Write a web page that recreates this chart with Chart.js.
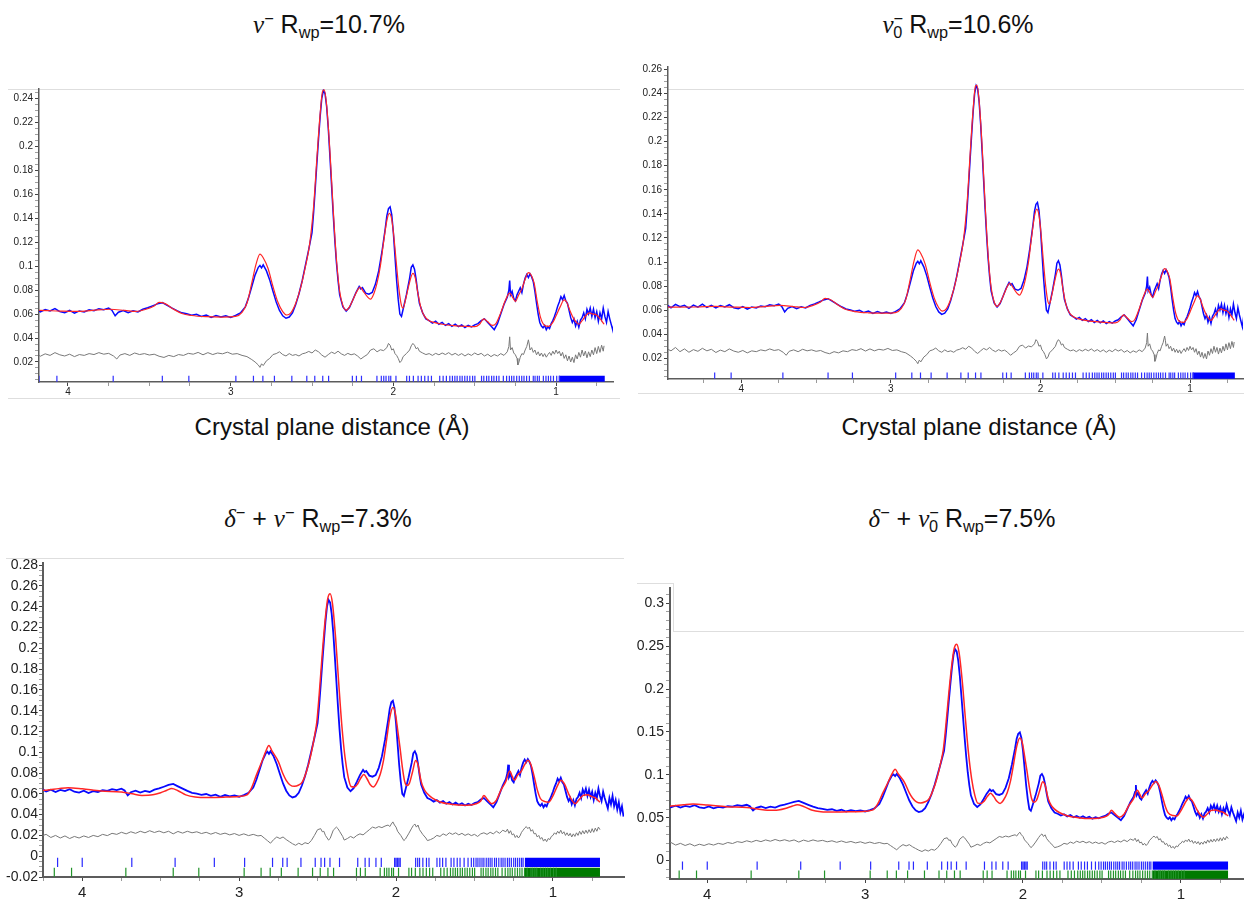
<!DOCTYPE html>
<html>
<head>
<meta charset="utf-8">
<script src="https://cdn.jsdelivr.net/npm/chart.js@4.4.0/dist/chart.umd.min.js"></script>
<style>
  body { margin: 0; background: #fff; }
  #page { position: relative; width: 1244px; height: 900px; overflow: hidden; font-family: 'Liberation Sans', Arial, sans-serif; color: #111; }
  canvas { position: absolute; }
  .title, .axt { position: absolute; font-size: 24px; line-height: 1; white-space: nowrap; transform: translateX(-50%); }
  .title { font-size: 25px; }
  .m { font-family: 'Liberation Serif', 'DejaVu Serif', serif; font-style: italic; }
  sup, sub { font-size: 0.65em; line-height: 0; position: relative; vertical-align: baseline; }
  sup { top: -0.55em; }
  sub { top: 0.3em; }
  sub.under { margin-left: -0.6em; }
  .rule { position: absolute; background: #dedede; }
</style>
</head>
<body>
<div id="page">
  <div class="title" style="left:329px; top:12px"><span class="m">v</span><sup>−</sup> R<sub>wp</sub>=10.7%</div>
  <div class="title" style="left:958px; top:12px"><span class="m">v</span><sup>−</sup><sub class="under">0</sub> R<sub>wp</sub>=10.6%</div>
  <div class="title" style="left:318px; top:506px"><span class="m">δ</span><sup>−</sup> + <span class="m">v</span><sup>−</sup> R<sub>wp</sub>=7.3%</div>
  <div class="title" style="left:962px; top:506px"><span class="m">δ</span><sup>−</sup> + <span class="m">v</span><sup>−</sup><sub class="under">0</sub> R<sub>wp</sub>=7.5%</div>
  <div class="axt" style="left:332px; top:415px">Crystal plane distance (Å)</div>
  <div class="axt" style="left:979px; top:415px">Crystal plane distance (Å)</div>

  <div class="rule" style="left:8px; top:89px; width:612px; height:1px"></div>
  <div class="rule" style="left:8px; top:398px; width:612px; height:1px"></div>
  <div class="rule" style="left:668px; top:89px; width:576px; height:1px"></div>
  <div class="rule" style="left:638px; top:393px; width:606px; height:1px"></div>
  <div class="rule" style="left:6px; top:558px; width:618px; height:1px"></div>
  <div class="rule" style="left:637px; top:583px; width:36px; height:1px"></div>
  <div class="rule" style="left:673px; top:583px; width:1px; height:48px"></div>
  <div class="rule" style="left:673px; top:631px; width:571px; height:1px"></div>

  <canvas id="c1" width="620" height="320" style="left:0px; top:80px"></canvas>
  <canvas id="c2" width="614" height="340" style="left:630px; top:55px"></canvas>
  <canvas id="c3" width="630" height="350" style="left:0px; top:550px"></canvas>
  <canvas id="c4" width="614" height="325" style="left:630px; top:575px"></canvas>
</div>
<script>
// observed intensity, [d (Å), I]
const obs = [
  [4.50,0.0645],[4.47,0.0620],[4.44,0.0648],[4.41,0.0628],[4.38,0.0640],[4.35,0.0615],[4.32,0.0642],[4.29,0.0625],
  [4.26,0.0650],[4.23,0.0622],[4.20,0.0640],[4.17,0.0618],[4.14,0.0638],[4.11,0.0626],[4.08,0.0645],[4.05,0.0620],
  [4.02,0.0612],[3.99,0.0630],[3.96,0.0608],[3.93,0.0626],[3.90,0.0618],[3.87,0.0635],[3.84,0.0628],[3.81,0.0645],
  [3.78,0.0636],[3.75,0.0650],[3.73,0.0632],[3.71,0.0585],[3.69,0.0615],[3.66,0.0630],[3.63,0.0612],[3.60,0.0628],
  [3.57,0.0618],[3.54,0.0640],[3.51,0.0652],[3.48,0.0668],[3.45,0.0685],[3.42,0.0695],[3.39,0.0672],[3.36,0.0650],
  [3.33,0.0628],[3.30,0.0610],[3.27,0.0602],[3.24,0.0590],[3.21,0.0598],[3.18,0.0580],[3.15,0.0592],[3.12,0.0572],
  [3.09,0.0588],[3.06,0.0575],[3.03,0.0585],[3.00,0.0572],[2.97,0.0588],[2.94,0.0610],[2.91,0.0660],[2.89,0.0735],
  [2.87,0.0830],[2.85,0.0925],[2.83,0.0990],[2.82,0.1005],[2.81,0.0985],[2.80,0.1010],[2.78,0.0960],[2.76,0.0885],
  [2.74,0.0790],[2.72,0.0700],[2.70,0.0630],[2.68,0.0585],[2.66,0.0565],[2.64,0.0575],[2.62,0.0610],[2.60,0.0680],
  [2.58,0.0770],[2.56,0.0880],[2.54,0.1010],[2.52,0.1140],[2.50,0.1280],[2.49,0.1450],[2.48,0.1650],[2.47,0.1860],
  [2.46,0.2060],[2.45,0.2250],[2.44,0.2400],[2.43,0.2465],[2.42,0.2440],[2.41,0.2330],[2.40,0.2150],[2.39,0.1920],
  [2.38,0.1680],[2.37,0.1440],[2.36,0.1220],[2.35,0.1030],[2.34,0.0880],[2.33,0.0760],[2.31,0.0660],[2.29,0.0625],
  [2.27,0.0655],[2.25,0.0715],[2.23,0.0780],[2.21,0.0830],[2.20,0.0810],[2.19,0.0820],[2.17,0.0775],[2.15,0.0765],
  [2.13,0.0780],[2.11,0.0850],[2.09,0.0960],[2.07,0.1120],[2.05,0.1310],[2.04,0.1420],[2.03,0.1480],[2.02,0.1495],
  [2.01,0.1430],[2.00,0.1280],[1.99,0.1080],[1.98,0.0880],[1.97,0.0720],[1.96,0.0600],[1.95,0.0580],[1.94,0.0640],
  [1.92,0.0760],[1.90,0.0900],[1.89,0.0990],[1.88,0.1010],[1.87,0.0975],[1.86,0.0890],[1.85,0.0780],[1.84,0.0690],
  [1.82,0.0610],[1.80,0.0560],[1.78,0.0545],[1.76,0.0525],[1.74,0.0540],[1.72,0.0515],[1.70,0.0530],[1.68,0.0505],
  [1.66,0.0520],[1.64,0.0498],[1.62,0.0515],[1.60,0.0495],[1.58,0.0510],[1.56,0.0488],[1.54,0.0505],[1.52,0.0492],
  [1.50,0.0510],[1.48,0.0520],[1.46,0.0545],[1.44,0.0560],[1.42,0.0530],[1.40,0.0500],[1.38,0.0470],[1.36,0.0520],
  [1.34,0.0600],[1.32,0.0680],[1.30,0.0740],[1.29,0.0800],[1.285,0.0880],[1.28,0.0760],[1.27,0.0790],[1.26,0.0730],
  [1.25,0.0710],[1.24,0.0760],[1.23,0.0790],[1.22,0.0820],[1.21,0.0780],[1.20,0.0850],[1.19,0.0900],[1.18,0.0930],
  [1.17,0.0905],[1.16,0.0935],[1.15,0.0910],[1.14,0.0870],[1.13,0.0790],[1.12,0.0690],[1.11,0.0600],[1.10,0.0530],
  [1.09,0.0500],[1.08,0.0485],[1.07,0.0505],[1.06,0.0470],[1.05,0.0495],[1.04,0.0480],[1.03,0.0520],[1.02,0.0545],
  [1.01,0.0580],[1.00,0.0620],[0.99,0.0665],[0.98,0.0700],[0.97,0.0745],[0.96,0.0720],[0.95,0.0755],[0.94,0.0710],
  [0.93,0.0690],[0.92,0.0630],[0.91,0.0570],[0.90,0.0530],[0.89,0.0560],[0.88,0.0500],[0.87,0.0540],[0.86,0.0490],
  [0.85,0.0550],[0.84,0.0570],[0.83,0.0610],[0.82,0.0560],[0.81,0.0640],[0.80,0.0600],[0.79,0.0650],[0.78,0.0580],
  [0.77,0.0640],[0.76,0.0570],[0.75,0.0620],[0.74,0.0540],[0.73,0.0610],[0.72,0.0560],[0.71,0.0650],[0.70,0.0580],
  [0.69,0.0530],[0.68,0.0620],[0.67,0.0560],[0.66,0.0510],[0.65,0.0460],[0.64,0.0560],[0.63,0.0500],[0.62,0.0580],
  [0.61,0.0480],[0.60,0.0540],[0.59,0.0450],[0.58,0.0520],[0.57,0.0420],[0.56,0.0480],[0.55,0.0380]
];

// calculated profile, single-phase fits (top row)
const calcNu = [
  [4.50,0.0625],[4.30,0.0626],[4.18,0.0631],[4.05,0.0625],[3.94,0.0622],[3.85,0.0630],[3.74,0.0640],[3.65,0.0630],
  [3.58,0.0622],[3.52,0.0640],[3.47,0.0668],[3.44,0.0697],[3.40,0.0685],[3.35,0.0640],[3.30,0.0605],[3.24,0.0588],
  [3.15,0.0578],[3.05,0.0575],[2.97,0.0580],[2.93,0.0615],[2.90,0.0690],[2.87,0.0860],[2.845,0.1010],[2.82,0.1100],
  [2.80,0.1070],[2.77,0.0980],[2.74,0.0830],[2.71,0.0700],[2.68,0.0620],[2.655,0.0592],[2.63,0.0610],[2.60,0.0690],
  [2.57,0.0820],[2.54,0.1000],[2.515,0.1180],[2.49,0.1500],[2.47,0.1900],[2.45,0.2270],[2.435,0.2460],[2.425,0.2470],
  [2.41,0.2340],[2.39,0.1960],[2.37,0.1480],[2.35,0.1060],[2.33,0.0790],[2.31,0.0670],[2.29,0.0632],[2.27,0.0660],
  [2.245,0.0730],[2.22,0.0800],[2.205,0.0825],[2.185,0.0790],[2.16,0.0745],[2.14,0.0725],[2.12,0.0770],[2.10,0.0860],
  [2.08,0.1000],[2.06,0.1200],[2.04,0.1380],[2.025,0.1440],[2.01,0.1390],[1.995,0.1220],[1.98,0.1000],[1.965,0.0800],
  [1.95,0.0670],[1.94,0.0650],[1.925,0.0720],[1.905,0.0840],[1.88,0.0940],[1.865,0.0900],[1.85,0.0780],[1.83,0.0650],
  [1.81,0.0585],[1.78,0.0545],[1.75,0.0530],[1.70,0.0515],[1.63,0.0504],[1.55,0.0497],[1.50,0.0495],[1.47,0.0515],
  [1.445,0.0560],[1.42,0.0535],[1.39,0.0505],[1.37,0.0520],[1.34,0.0610],[1.31,0.0720],[1.285,0.0775],[1.265,0.0735],
  [1.25,0.0705],[1.23,0.0760],[1.21,0.0810],[1.19,0.0890],[1.17,0.0945],[1.155,0.0930],[1.135,0.0860],[1.115,0.0700],
  [1.095,0.0570],[1.07,0.0505],[1.045,0.0498],[1.02,0.0530],[1.00,0.0585],[0.975,0.0660],[0.95,0.0718],[0.935,0.0700],
  [0.915,0.0630],[0.895,0.0570],[0.875,0.0530],[0.86,0.0515],[0.84,0.0545],[0.815,0.0590],[0.795,0.0610],[0.775,0.0600],
  [0.755,0.0595],[0.735,0.0570],[0.715,0.0535],[0.705,0.0515]
];

// calculated profile, two-phase fits (bottom row)
const calcDelta = [
  [4.50,0.0630],[4.30,0.0632],[4.23,0.0635],[4.15,0.0650],[4.09,0.0659],[4.00,0.0648],[3.88,0.0627],[3.75,0.0618],
  [3.68,0.0600],[3.62,0.0585],[3.55,0.0590],[3.50,0.0610],[3.46,0.0635],[3.43,0.0650],[3.39,0.0630],[3.34,0.0590],
  [3.28,0.0570],[3.20,0.0565],[3.10,0.0568],[3.00,0.0575],[2.95,0.0590],[2.92,0.0660],[2.89,0.0780],[2.855,0.0910],
  [2.83,0.1010],[2.81,0.1065],[2.79,0.1010],[2.75,0.0910],[2.72,0.0790],[2.70,0.0730],[2.675,0.0685],[2.648,0.0672],
  [2.62,0.0685],[2.597,0.0715],[2.57,0.0820],[2.545,0.0960],[2.52,0.1150],[2.505,0.1290],[2.49,0.1550],[2.47,0.1950],
  [2.45,0.2300],[2.435,0.2480],[2.42,0.2525],[2.405,0.2430],[2.385,0.2100],[2.365,0.1660],[2.345,0.1250],[2.325,0.0950],
  [2.305,0.0760],[2.287,0.0670],[2.265,0.0665],[2.245,0.0695],[2.225,0.0750],[2.205,0.0785],[2.185,0.0745],[2.165,0.0690],
  [2.145,0.0665],[2.125,0.0700],[2.10,0.0790],[2.08,0.0920],[2.06,0.1120],[2.04,0.1330],[2.02,0.1430],[2.005,0.1380],
  [1.99,0.1220],[1.975,0.1050],[1.96,0.0860],[1.945,0.0720],[1.93,0.0680],[1.915,0.0700],[1.895,0.0810],[1.875,0.0920],
  [1.86,0.0880],[1.84,0.0720],[1.82,0.0640],[1.80,0.0600],[1.77,0.0560],[1.72,0.0522],[1.65,0.0500],[1.57,0.0490],
  [1.49,0.0505],[1.46,0.0530],[1.44,0.0585],[1.42,0.0550],[1.39,0.0505],[1.36,0.0540],[1.33,0.0640],[1.30,0.0720],
  [1.275,0.0820],[1.26,0.0770],[1.245,0.0730],[1.225,0.0780],[1.205,0.0810],[1.18,0.0880],[1.16,0.0922],[1.14,0.0880],
  [1.12,0.0770],[1.10,0.0640],[1.08,0.0555],[1.05,0.0525],[1.026,0.0520],[1.00,0.0580],[0.975,0.0665],[0.948,0.0730],
  [0.925,0.0690],[0.90,0.0600],[0.88,0.0540],[0.858,0.0505],[0.835,0.0540],[0.807,0.0585],[0.78,0.0590],[0.755,0.0575],
  [0.73,0.0560],[0.70,0.0520]
];

// difference curves (offset), top and bottom rows
const diffNu = [
  [4.50,0.0280],[4.47,0.0262],[4.44,0.0290],[4.41,0.0255],[4.38,0.0278],[4.35,0.0250],[4.32,0.0272],[4.29,0.0258],
  [4.26,0.0283],[4.23,0.0262],[4.20,0.0275],[4.17,0.0248],[4.14,0.0268],[4.11,0.0255],[4.08,0.0278],[4.05,0.0260],
  [4.02,0.0250],[3.99,0.0265],[3.96,0.0245],[3.93,0.0262],[3.90,0.0255],[3.87,0.0270],[3.84,0.0262],[3.81,0.0278],
  [3.78,0.0265],[3.75,0.0272],[3.72,0.0250],[3.70,0.0225],[3.68,0.0258],[3.65,0.0270],[3.62,0.0255],[3.59,0.0275],
  [3.56,0.0262],[3.53,0.0270],[3.50,0.0258],[3.47,0.0265],[3.44,0.0248],[3.41,0.0238],[3.38,0.0255],[3.35,0.0245],
  [3.32,0.0262],[3.29,0.0255],[3.26,0.0272],[3.23,0.0265],[3.20,0.0280],[3.17,0.0260],[3.14,0.0278],[3.11,0.0262],
  [3.08,0.0275],[3.05,0.0268],[3.02,0.0282],[2.99,0.0265],[2.96,0.0270],[2.93,0.0255],[2.90,0.0245],[2.87,0.0220],
  [2.85,0.0200],[2.83,0.0175],[2.82,0.0155],[2.81,0.0185],[2.80,0.0170],[2.78,0.0210],[2.76,0.0230],[2.74,0.0262],
  [2.72,0.0270],[2.70,0.0285],[2.68,0.0262],[2.66,0.0250],[2.64,0.0270],[2.62,0.0255],[2.60,0.0262],[2.58,0.0250],
  [2.56,0.0268],[2.54,0.0275],[2.52,0.0288],[2.50,0.0275],[2.48,0.0300],[2.46,0.0285],[2.44,0.0258],[2.42,0.0240],
  [2.40,0.0262],[2.38,0.0282],[2.36,0.0270],[2.34,0.0290],[2.32,0.0268],[2.30,0.0255],[2.28,0.0272],[2.26,0.0260],
  [2.24,0.0268],[2.22,0.0250],[2.20,0.0225],[2.18,0.0245],[2.16,0.0262],[2.14,0.0300],[2.12,0.0310],[2.10,0.0285],
  [2.08,0.0302],[2.06,0.0295],[2.04,0.0320],[2.03,0.0355],[2.02,0.0340],[2.01,0.0300],[2.00,0.0310],[1.99,0.0270],
  [1.98,0.0255],[1.97,0.0230],[1.96,0.0195],[1.95,0.0210],[1.94,0.0245],[1.92,0.0270],[1.90,0.0300],[1.89,0.0335],
  [1.88,0.0355],[1.87,0.0340],[1.86,0.0310],[1.85,0.0320],[1.84,0.0290],[1.82,0.0275],[1.80,0.0262],[1.78,0.0270],
  [1.76,0.0255],[1.74,0.0272],[1.72,0.0260],[1.70,0.0275],[1.68,0.0262],[1.66,0.0278],[1.64,0.0258],[1.62,0.0272],
  [1.60,0.0255],[1.58,0.0270],[1.56,0.0250],[1.54,0.0268],[1.52,0.0255],[1.50,0.0275],[1.48,0.0260],[1.46,0.0272],
  [1.44,0.0250],[1.42,0.0265],[1.40,0.0245],[1.38,0.0262],[1.36,0.0250],[1.34,0.0270],[1.32,0.0255],[1.30,0.0285],
  [1.29,0.0330],[1.285,0.0410],[1.28,0.0300],[1.27,0.0320],[1.26,0.0275],[1.25,0.0260],[1.24,0.0230],[1.235,0.0175],
  [1.23,0.0190],[1.22,0.0240],[1.21,0.0270],[1.20,0.0262],[1.19,0.0300],[1.18,0.0330],[1.17,0.0385],[1.165,0.0350],
  [1.16,0.0300],[1.15,0.0320],[1.14,0.0280],[1.13,0.0300],[1.12,0.0260],[1.11,0.0285],[1.10,0.0250],[1.09,0.0275],
  [1.08,0.0245],[1.07,0.0270],[1.06,0.0240],[1.05,0.0262],[1.04,0.0280],[1.03,0.0255],[1.02,0.0290],[1.01,0.0265],
  [1.00,0.0300],[0.99,0.0270],[0.98,0.0290],[0.97,0.0250],[0.96,0.0280],[0.95,0.0230],[0.94,0.0260],[0.93,0.0210],
  [0.92,0.0250],[0.91,0.0200],[0.90,0.0240],[0.89,0.0195],[0.88,0.0260],[0.87,0.0225],[0.86,0.0280],[0.85,0.0240],
  [0.84,0.0300],[0.83,0.0250],[0.82,0.0290],[0.81,0.0235],[0.80,0.0285],[0.79,0.0245],[0.78,0.0300],[0.77,0.0260],
  [0.76,0.0320],[0.75,0.0270],[0.74,0.0330],[0.73,0.0280],[0.72,0.0340],[0.71,0.0290],[0.705,0.0335]
];
const diffDelta = [
  [4.50,0.0205],[4.45,0.0185],[4.40,0.0210],[4.35,0.0190],[4.30,0.0215],[4.26,0.0195],[4.23,0.0210],[4.20,0.0180],
  [4.17,0.0200],[4.14,0.0175],[4.11,0.0195],[4.08,0.0170],[4.05,0.0190],[4.02,0.0175],[3.99,0.0195],[3.96,0.0180],
  [3.93,0.0200],[3.90,0.0188],[3.87,0.0210],[3.84,0.0198],[3.81,0.0220],[3.78,0.0210],[3.75,0.0230],[3.72,0.0215],
  [3.69,0.0235],[3.66,0.0220],[3.63,0.0240],[3.60,0.0225],[3.57,0.0245],[3.54,0.0228],[3.51,0.0242],[3.48,0.0225],
  [3.45,0.0240],[3.42,0.0215],[3.39,0.0238],[3.36,0.0222],[3.33,0.0240],[3.30,0.0225],[3.27,0.0235],[3.24,0.0218],
  [3.21,0.0230],[3.18,0.0212],[3.15,0.0228],[3.12,0.0210],[3.09,0.0222],[3.06,0.0205],[3.03,0.0218],[3.00,0.0200],
  [2.97,0.0215],[2.94,0.0198],[2.91,0.0210],[2.88,0.0195],[2.86,0.0200],[2.84,0.0175],[2.82,0.0150],[2.80,0.0125],
  [2.78,0.0160],[2.76,0.0185],[2.74,0.0170],[2.72,0.0185],[2.70,0.0160],[2.68,0.0140],[2.66,0.0120],[2.64,0.0105],
  [2.62,0.0125],[2.60,0.0110],[2.58,0.0130],[2.56,0.0120],[2.54,0.0150],[2.52,0.0200],[2.50,0.0255],[2.48,0.0265],
  [2.47,0.0235],[2.46,0.0240],[2.45,0.0200],[2.43,0.0155],[2.42,0.0170],[2.40,0.0250],[2.38,0.0280],[2.37,0.0265],
  [2.36,0.0240],[2.34,0.0190],[2.33,0.0155],[2.31,0.0170],[2.29,0.0190],[2.27,0.0175],[2.25,0.0200],[2.23,0.0215],
  [2.21,0.0205],[2.19,0.0230],[2.17,0.0255],[2.15,0.0280],[2.13,0.0270],[2.11,0.0285],[2.09,0.0275],[2.07,0.0290],
  [2.05,0.0300],[2.04,0.0285],[2.03,0.0310],[2.02,0.0330],[2.01,0.0300],[2.00,0.0280],[1.99,0.0240],[1.97,0.0200],
  [1.96,0.0175],[1.95,0.0150],[1.94,0.0165],[1.92,0.0215],[1.90,0.0270],[1.89,0.0295],[1.88,0.0310],[1.87,0.0280],
  [1.86,0.0300],[1.85,0.0255],[1.83,0.0210],[1.81,0.0175],[1.80,0.0150],[1.78,0.0160],[1.76,0.0175],[1.74,0.0200],
  [1.72,0.0190],[1.70,0.0215],[1.68,0.0200],[1.66,0.0225],[1.64,0.0210],[1.62,0.0225],[1.60,0.0205],[1.58,0.0220],
  [1.56,0.0200],[1.54,0.0215],[1.52,0.0198],[1.50,0.0210],[1.48,0.0190],[1.46,0.0215],[1.44,0.0225],[1.42,0.0210],
  [1.40,0.0230],[1.38,0.0215],[1.36,0.0240],[1.34,0.0220],[1.32,0.0250],[1.30,0.0235],[1.29,0.0260],[1.28,0.0220],
  [1.27,0.0245],[1.26,0.0205],[1.25,0.0215],[1.24,0.0180],[1.23,0.0200],[1.22,0.0175],[1.21,0.0195],[1.20,0.0230],
  [1.19,0.0250],[1.18,0.0270],[1.17,0.0285],[1.16,0.0265],[1.15,0.0280],[1.14,0.0240],[1.13,0.0255],[1.12,0.0215],
  [1.11,0.0220],[1.10,0.0185],[1.09,0.0200],[1.08,0.0165],[1.07,0.0180],[1.06,0.0145],[1.05,0.0165],[1.04,0.0140],
  [1.03,0.0170],[1.02,0.0160],[1.01,0.0190],[1.00,0.0200],[0.99,0.0225],[0.98,0.0210],[0.97,0.0240],[0.96,0.0220],
  [0.95,0.0250],[0.94,0.0215],[0.93,0.0235],[0.92,0.0200],[0.91,0.0225],[0.90,0.0195],[0.89,0.0220],[0.88,0.0185],
  [0.87,0.0215],[0.86,0.0190],[0.85,0.0225],[0.84,0.0200],[0.83,0.0240],[0.82,0.0210],[0.81,0.0245],[0.80,0.0215],
  [0.79,0.0250],[0.78,0.0220],[0.77,0.0255],[0.76,0.0225],[0.75,0.0265],[0.74,0.0230],[0.73,0.0270],[0.72,0.0240],
  [0.71,0.0280],[0.70,0.0255]
];

// reflection positions (d, Å)
const nuRefl = [
  4.178, 4.068, 3.722, 3.420, 3.257, 2.968, 2.860, 2.802, 2.731, 2.624, 2.532, 2.483, 2.434, 2.398, 2.252, 2.227,
  2.196, 2.101, 2.074, 2.059, 2.045, 2.028, 2.016, 1.984, 1.918, 1.901, 1.877, 1.848, 1.828, 1.807, 1.786, 1.766,
  1.715, 1.694, 1.674, 1.653, 1.637, 1.622, 1.608, 1.591, 1.577, 1.561, 1.546, 1.530, 1.513, 1.499, 1.458, 1.444,
  1.427, 1.413, 1.396, 1.382, 1.366, 1.351, 1.324, 1.304, 1.287, 1.273, 1.259, 1.242, 1.226, 1.211, 1.197, 1.181,
  1.164, 1.140, 1.129, 1.115, 1.103, 1.078, 1.062, 1.047, 1.033, 1.016, 0.996, 0.979
];
const deltaRefl = [
  4.157, 4.000, 3.684, 3.408, 3.158, 2.965, 2.787, 2.722, 2.694, 2.606, 2.515, 2.478, 2.455, 2.421, 2.360, 2.244,
  2.197, 2.171, 2.128, 2.094, 2.009, 2.000, 1.991, 1.982, 1.973, 1.875, 1.862, 1.850, 1.829, 1.806, 1.790, 1.739,
  1.721, 1.703, 1.682, 1.649, 1.631, 1.610, 1.592, 1.566, 1.541, 1.520, 1.505, 1.490, 1.478, 1.465, 1.452, 1.440,
  1.425, 1.412, 1.400, 1.388, 1.372, 1.360, 1.345, 1.330, 1.318, 1.305, 1.290, 1.278, 1.265, 1.250, 1.238, 1.225,
  1.212, 1.200, 1.190
];
// ranges where the reflection markers merge into a solid band
const nuBandTop = [0.985, 0.70];
const nuBandBottom = [1.18, 0.70];
const deltaBand = [1.18, 0.70];

const FONT = "'Liberation Sans', Arial, sans-serif";
const NARROW = "'Liberation Sans Narrow', 'Liberation Sans', Arial, sans-serif";

const pts = arr => arr.map(([x, y]) => ({ x, y }));
const isMult = (v, step) => Math.abs(v / step - Math.round(v / step)) < 1e-6;
const fmt = v => String(Math.round(v * 1000) / 1000);

function markers(list, y0, y1) {
  const out = [];
  list.forEach(d => { out.push({ x: d, y: y0 }, { x: d, y: y1 }, { x: d, y: null }); });
  return out;
}

function makePanel(id, p) {
  const datasets = [
    { data: pts(p.calc), borderColor: '#ff2626', borderWidth: p.lw, cubicInterpolationMode: 'monotone' },
    { data: pts(obs), borderColor: '#0808ff', borderWidth: p.lwObs },
    { data: pts(p.diff), borderColor: '#787878', borderWidth: 1 }
  ];
  p.refl.forEach(r => {
    datasets.push({ data: markers(r.list, r.y0, r.y1), borderColor: r.color, borderWidth: 1.2, spanGaps: false });
    datasets.push({
      data: [{ x: r.band[0], y: r.y1 }, { x: r.band[1], y: r.y1 }],
      borderColor: r.fillColor, borderWidth: 0, backgroundColor: r.fillColor, fill: { value: r.y0 }
    });
  });

  new Chart(document.getElementById(id), {
    type: 'line',
    data: { datasets },
    options: {
      responsive: false,
      animation: false,
      events: [],
      layout: { padding: { top: p.padTop, right: p.padRight, left: 0, bottom: 0 } },
      elements: { point: { radius: 0 }, line: { tension: 0 } },
      plugins: { legend: { display: false }, tooltip: { enabled: false } },
      scales: {
        x: {
          type: 'linear', reverse: true, min: p.xMin, max: p.xMax,
          afterFit: s => { s.height = p.xH; },
          ticks: {
            stepSize: 0.25, autoSkip: false, maxRotation: 0, includeBounds: false,
            padding: p.xPad, color: '#222', font: { family: p.xFamily, size: p.xFs },
            callback: v => isMult(v, 1) ? String(Math.round(v)) : ''
          },
          grid: {
            drawOnChartArea: false, drawTicks: true, tickLength: 4,
            tickColor: c => isMult(c.tick.value, 1) ? '#444' : '#9a9a9a'
          },
          border: { display: true, color: '#5c5c5c', width: p.bw }
        },
        y: {
          type: 'linear', min: p.yMin, max: p.yMax,
          afterFit: s => { s.width = p.yW; },
          ticks: {
            stepSize: p.yMinor, autoSkip: false, includeBounds: false,
            padding: p.yPad, color: '#222', font: { family: p.yFamily, size: p.yFs },
            callback: v => isMult(v, p.yMajor) ? fmt(v) : ''
          },
          grid: {
            drawOnChartArea: false, drawTicks: true, tickLength: 4,
            tickColor: c => isMult(c.tick.value, p.yMajor) ? '#444' : '#a0a0a0'
          },
          border: { display: true, color: '#5c5c5c', width: p.bw }
        }
      }
    }
  });
}

makePanel('c1', {
  calc: calcNu, diff: diffNu, lw: 1.2, lwObs: 1.5, bw: 1.5,
  xMin: 0.65, xMax: 4.178, yMin: 0.0033, yMax: 0.2478, yMinor: 0.005, yMajor: 0.02,
  yW: 39, xH: 18, padTop: 9, padRight: 7, xPad: 0, yPad: 2,
  xFamily: FONT, xFs: 10, yFamily: FONT, yFs: 10,
  refl: [{ list: nuRefl, band: nuBandTop, y0: 0.0036, y1: 0.0085, color: '#3030ff', fillColor: '#0000ff' }]
});
makePanel('c2', {
  calc: calcNu, diff: diffNu, lw: 1.2, lwObs: 1.5, bw: 1.5,
  xMin: 0.646, xMax: 4.49, yMin: 0.0028, yMax: 0.262, yMinor: 0.005, yMajor: 0.02,
  yW: 38, xH: 16, padTop: 12, padRight: 1, xPad: 0, yPad: 2,
  xFamily: FONT, xFs: 10, yFamily: FONT, yFs: 10,
  refl: [{ list: nuRefl, band: nuBandTop, y0: 0.0031, y1: 0.0082, color: '#3030ff', fillColor: '#0000ff' }]
});
makePanel('c3', {
  calc: calcDelta, diff: diffDelta, lw: 1.5, lwObs: 1.8, bw: 2,
  xMin: 0.547, xMax: 4.25, yMin: -0.02, yMax: 0.282, yMinor: 0.005, yMajor: 0.02,
  yW: 43, xH: 23, padTop: 13, padRight: 6, xPad: 3, yPad: 1,
  xFamily: NARROW, xFs: 15, yFamily: NARROW, yFs: 14,
  refl: [
    { list: deltaRefl, band: deltaBand, y0: -0.0105, y1: -0.0015, color: '#2a2aff', fillColor: '#0000ff' },
    { list: nuRefl, band: nuBandBottom, y0: -0.0197, y1: -0.0112, color: '#22932a', fillColor: '#007a00' }
  ]
});
makePanel('c4', {
  calc: calcDelta, diff: diffDelta, lw: 1.5, lwObs: 1.8, bw: 2,
  xMin: 0.60, xMax: 4.236, yMin: -0.0216, yMax: 0.318, yMinor: 0.01, yMajor: 0.05,
  yW: 40, xH: 21, padTop: 13, padRight: 0, xPad: 3, yPad: 2,
  xFamily: NARROW, xFs: 15, yFamily: NARROW, yFs: 14,
  refl: [
    { list: deltaRefl, band: deltaBand, y0: -0.0108, y1: -0.0012, color: '#2a2aff', fillColor: '#0000ff' },
    { list: nuRefl, band: nuBandBottom, y0: -0.0213, y1: -0.0117, color: '#22932a', fillColor: '#007a00' }
  ]
});
</script>
</body>
</html>
